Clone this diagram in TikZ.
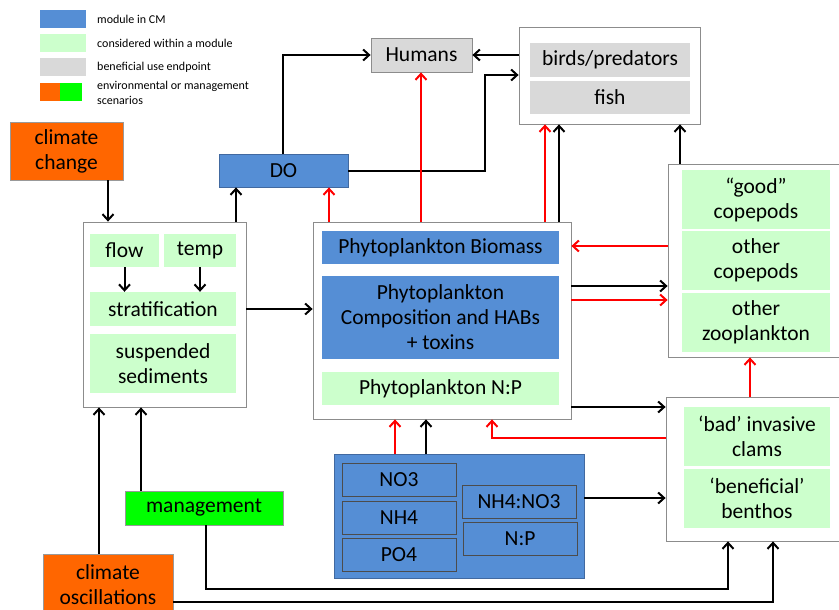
\documentclass[tikz,border=0pt]{standalone}
\usepackage{fontspec}
\setmainfont{Carlito}
\usetikzlibrary{arrows.meta}
\definecolor{cmblue}{RGB}{85,142,213}
\definecolor{cmblueline}{RGB}{65,105,160}
\definecolor{cmgreen}{RGB}{204,255,204}
\definecolor{cmgray}{RGB}{217,217,217}
\definecolor{cmorange}{RGB}{255,102,0}
\definecolor{cmlime}{RGB}{0,255,0}
\tikzset{
  box/.style={inner sep=0pt, align=center, font=\fontsize{21.5}{25}\selectfont},
  frame/.style={box, draw=gray!90, line width=0.8pt, fill=white},
  blue/.style={box, fill=cmblue, draw=cmblueline, line width=0.8pt},
  innerblue/.style={box, fill=cmblue, draw=black!70, line width=0.8pt},
  green/.style={box, fill=cmgreen},
  endpt/.style={box, fill=cmgray},
  scen/.style={box, draw=gray!80, line width=0.8pt},
  arr/.style={line width=2pt, -{Straight Barb[length=6pt,width=11pt]}},
  redarr/.style={arr, red},
  legtext/.style={anchor=west, align=left, inner sep=0pt, font=\fontsize{12}{14.5}\selectfont}
}
\begin{document}
\begin{tikzpicture}[x=1pt,y=-1pt]
  \useasboundingbox (0,0) rectangle (839,610);

  % legend
  \node[box, fill=cmblue, minimum width=46pt, minimum height=18pt] (lgblue) at (63,19) {};
  \node[box, fill=cmgreen, minimum width=46pt, minimum height=18pt] (lggreen) at (63,43) {};
  \node[box, fill=cmgray, minimum width=46pt, minimum height=18pt] (lggray) at (63,67) {};
  \node[box, fill=cmorange, minimum width=20pt, minimum height=18pt] (lgorange) at (50,92) {};
  \node[box, fill=cmlime, minimum width=22pt, minimum height=18pt] (lglime) at (71,92) {};
  \node[legtext] (lgt1) at (97,19) {module in CM};
  \node[legtext] (lgt2) at (97,43) {considered within a module};
  \node[legtext] (lgt3) at (97,67) {beneficial use endpoint};
  \node[legtext] (lgt4) at (97,93) {environmental or management\\scenarios};

  % drivers
  \node[scen, fill=cmorange, minimum width=113pt, minimum height=58pt] (cc) at (66.5,151) {climate\\change};
  \node[scen, fill=cmlime, minimum width=158pt, minimum height=34pt] (mgmt) at (204,508) {management};
  \node[scen, fill=cmorange, minimum width=130pt, minimum height=61pt] (osc) at (108,584.5) {climate\\oscillations};

  % endpoints
  \node[blue, minimum width=129pt, minimum height=33pt] (DO) at (283.5,170.5) {DO};
  \node[endpt, draw=gray!90, line width=0.8pt, minimum width=101pt, minimum height=34pt] (Humans) at (421.5,55) {Humans};
  \node[frame, minimum width=181pt, minimum height=97pt] (birdsBox) at (609.5,75.5) {};
  \node[endpt, minimum width=160pt, minimum height=34pt] (birds) at (610,60) {birds/predators};
  \node[endpt, minimum width=160pt, minimum height=33pt] (fish) at (610,97.5) {fish};

  % physical drivers
  \node[frame, minimum width=163pt, minimum height=185pt] (phys) at (164.5,314.5) {};
  \node[green, minimum width=69pt, minimum height=33pt] (flow) at (124.5,250.5) {flow};
  \node[green, minimum width=72pt, minimum height=33pt] (temp) at (200,250.5) {temp};
  \node[green, minimum width=146pt, minimum height=34pt] (strat) at (163,309) {stratification};
  \node[green, minimum width=146pt, minimum height=59pt] (sed) at (163,363.5) {suspended\\sediments};

  % phytoplankton
  \node[frame, minimum width=258pt, minimum height=197pt] (phytoBox) at (442,320.5) {};
  \node[blue, draw=none, minimum width=237pt, minimum height=33pt] (biomass) at (440.5,247.5) {Phytoplankton Biomass};
  \node[blue, draw=none, minimum width=237pt, minimum height=83pt] (comp) at (440.5,317.5) {Phytoplankton\\Composition and HABs\\+ toxins};
  \node[green, minimum width=237pt, minimum height=33pt] (np) at (440.5,388.5) {Phytoplankton N:P};

  % zooplankton
  \node[frame, minimum width=172pt, minimum height=193pt] (zooBox) at (754,260.5) {};
  \node[green, minimum width=148pt, minimum height=59pt] (good) at (756,199.5) {“good”\\copepods};
  \node[green, minimum width=148pt, minimum height=59pt] (othcop) at (756,260.5) {other\\copepods};
  \node[green, minimum width=148pt, minimum height=59pt] (othzoo) at (756,322.5) {other\\zooplankton};

  % benthos
  \node[frame, minimum width=174pt, minimum height=144pt] (clamBox) at (753,469) {};
  \node[green, minimum width=146pt, minimum height=59pt] (bad) at (757,436.5) {‘bad’ invasive\\clams};
  \node[green, minimum width=146pt, minimum height=59pt] (benef) at (757,498.5) {‘beneficial’\\benthos};

  % nutrients
  \node[blue, minimum width=250pt, minimum height=124pt] (nutBox) at (459,516) {};
  \node[innerblue, minimum width=114pt, minimum height=33pt] (no3) at (399,479.5) {NO3};
  \node[innerblue, minimum width=114pt, minimum height=33pt] (nh4) at (399,517.5) {NH4};
  \node[innerblue, minimum width=114pt, minimum height=33pt] (po4) at (399,554.5) {PO4};
  \node[innerblue, minimum width=114pt, minimum height=33pt] (ratio) at (519,501.5) {NH4:NO3};
  \node[innerblue, minimum width=114pt, minimum height=33pt] (nprat) at (520,538.5) {N:P};

  \coordinate (jDO) at (485,75);
  \coordinate (jClam) at (492,438);
  \coordinate (jMgmt) at (728,589);
  \coordinate (jOsc) at (773,602);

  % black links
  \draw[arr] (cc.south -| 108,0) -- (phys.north -| 108,0);
  \draw[arr] (phys.north -| 236,0) -- (DO.south -| 236,0);
  \draw[arr] (DO.north -| 283,0) |- (Humans.west);
  \draw[arr] (DO.east) -| (jDO) -- (jDO -| birdsBox.west);
  \draw[arr] (birdsBox.west |- Humans.east) -- (Humans.east);
  \draw[arr] (phytoBox.north -| 559,0) -- (birdsBox.south -| 559,0);
  \draw[arr] (zooBox.north -| 680,0) -- (birdsBox.south -| 680,0);
  \draw[arr] (phytoBox.east |- 0,286) -- (zooBox.west |- 0,286);
  \draw[arr] (phys.east |- strat) -- (phytoBox.west |- strat);
  \draw[arr] (phytoBox.east |- 0,407) -- (clamBox.west |- 0,407);
  \draw[arr] (nutBox.north -| 426,0) -- (phytoBox.south -| 426,0);
  \draw[arr] (nutBox.east |- 0,498) -- (clamBox.west |- 0,498);
  \draw[arr] (osc.north -| 99,0) -- (phys.south -| 99,0);
  \draw[arr] (mgmt.north -| 141,0) -- (phys.south -| 141,0);
  \draw[arr] (mgmt.south -| 206,0) |- (jMgmt) -- (clamBox.south -| jMgmt);
  \draw[arr] (osc.east |- jOsc) -- (jOsc) -- (clamBox.south -| jOsc);
  \draw[arr] (flow) -- (flow |- strat.north);
  \draw[arr] (temp) -- (temp |- strat.north);

  % red links
  \draw[redarr] (phytoBox.north -| 329,0) -- (DO.south -| 329,0);
  \draw[redarr] (phytoBox.north -| 421,0) -- (Humans.south -| 421,0);
  \draw[redarr] (phytoBox.north -| 545,0) -- (birdsBox.south -| 545,0);
  \draw[redarr] (zooBox.west |- 0,246) -- (phytoBox.east |- 0,246);
  \draw[redarr] (phytoBox.east |- 0,300) -- (zooBox.west |- 0,300);
  \draw[redarr] (clamBox.west |- jClam) -- (jClam) -- (phytoBox.south -| jClam);
  \draw[redarr] (nutBox.north -| 395,0) -- (phytoBox.south -| 395,0);
  \draw[redarr] (clamBox.north -| 750,0) -- (zooBox.south -| 750,0);
\end{tikzpicture}
\end{document}
